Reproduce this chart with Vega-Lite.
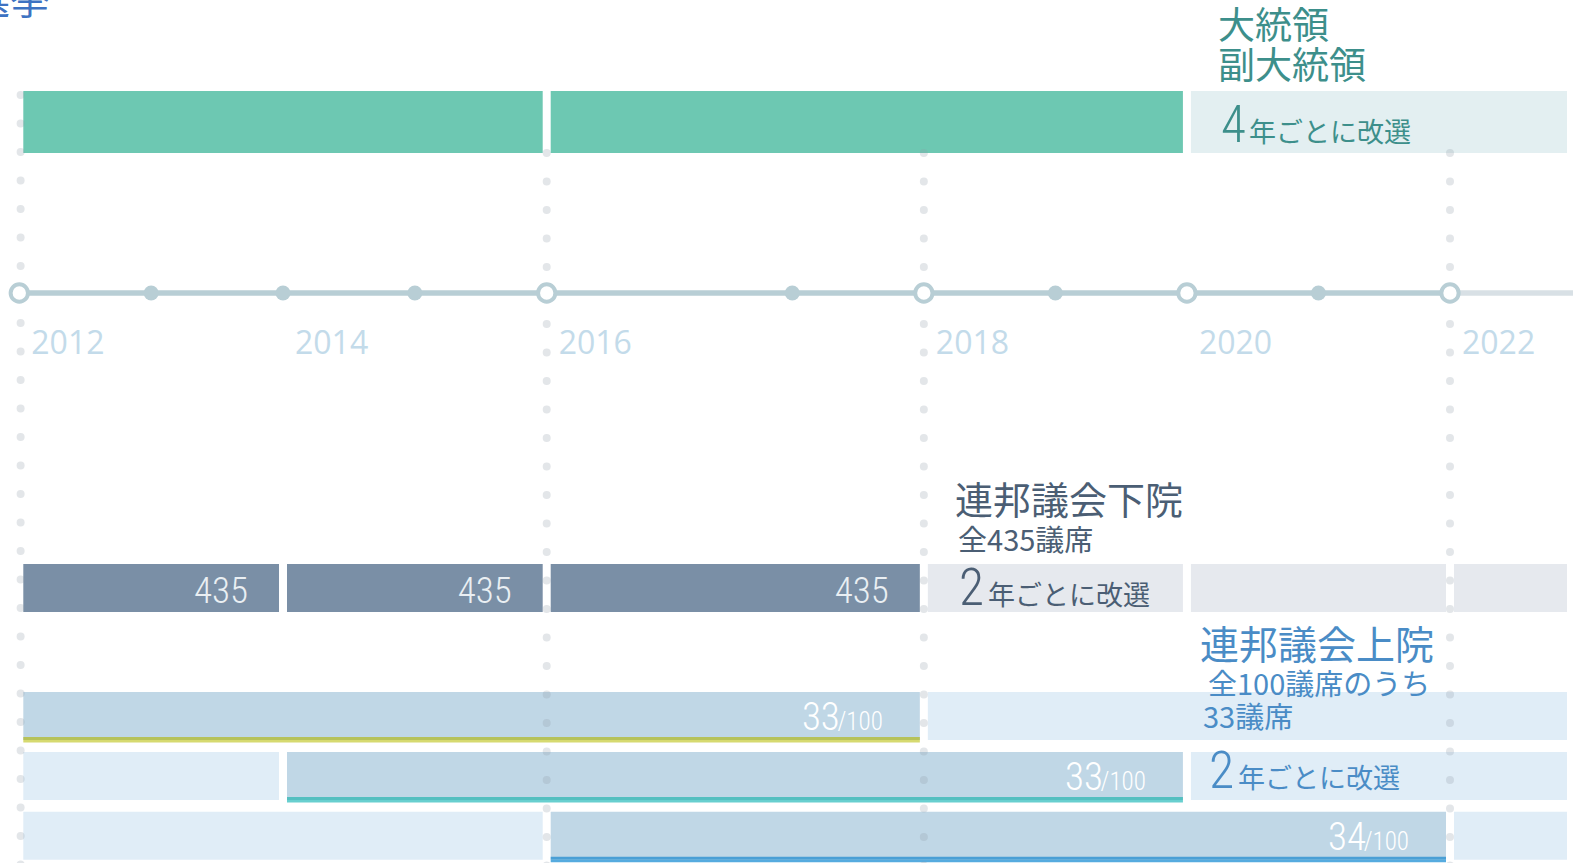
{
  "$schema": "https://vega.github.io/schema/vega-lite/v6.json",
  "width": 1573,
  "height": 863,
  "padding": 0,
  "autosize": "none",
  "background": "white",
  "config": {"view": {"stroke": null}},
  "resolve": {"scale": {"color": "independent", "size": "independent"}},
  "datasets": {
    "bars": [
      {"lane": 1, "year": 2012, "end": 2016, "kind": "pres"},
      {"lane": 1, "year": 2016, "end": 2020, "kind": "pres"},
      {"lane": 1, "year": 2020, "end": 2022.92, "kind": "pres-next"},
      {"lane": 3, "year": 2012, "end": 2014, "kind": "house", "seats": "435"},
      {"lane": 3, "year": 2014, "end": 2016, "kind": "house", "seats": "435"},
      {"lane": 3, "year": 2016, "end": 2018, "kind": "house", "seats": "435"},
      {"lane": 3, "year": 2018, "end": 2020, "kind": "house-next"},
      {"lane": 3, "year": 2020, "end": 2022, "kind": "house-next"},
      {"lane": 3, "year": 2022, "end": 2022.92, "kind": "house-next"},
      {"lane": 4, "year": 2012, "end": 2018, "kind": "senate", "seats": "33", "of": "/100", "line": "class1"},
      {"lane": 4, "year": 2018, "end": 2022.92, "kind": "senate-next"},
      {"lane": 5, "year": 2012, "end": 2014, "kind": "senate-next"},
      {"lane": 5, "year": 2014, "end": 2020, "kind": "senate", "seats": "33", "of": "/100", "line": "class2"},
      {"lane": 5, "year": 2020, "end": 2022.92, "kind": "senate-next"},
      {"lane": 6, "year": 2012, "end": 2016, "kind": "senate-next"},
      {"lane": 6, "year": 2016, "end": 2022, "kind": "senate", "seats": "34", "of": "/100", "line": "class3"},
      {"lane": 6, "year": 2022, "end": 2022.92, "kind": "senate-next"}
    ],
    "guides": [
      {"year": 2012.01, "lane": 0.7705, "lane2": 6.6},
      {"year": 2016, "lane": 1.181, "lane2": 6.6},
      {"year": 2018, "lane": 1.181, "lane2": 6.6},
      {"year": 2022, "lane": 1.181, "lane2": 6.6}
    ],
    "axisline": [
      {"year": 2012, "end": 2022, "lane": 2, "seg": "past"},
      {"year": 2022, "end": 2023.2, "lane": 2, "seg": "future"}
    ],
    "ticks": [
      {"year": 2012, "lane": 2, "type": "election"},
      {"year": 2013, "lane": 2, "type": "year"},
      {"year": 2014, "lane": 2, "type": "year"},
      {"year": 2015, "lane": 2, "type": "year"},
      {"year": 2016, "lane": 2, "type": "election"},
      {"year": 2017, "lane": 2, "type": "year"},
      {"year": 2018, "lane": 2, "type": "election"},
      {"year": 2019, "lane": 2, "type": "year"},
      {"year": 2020, "lane": 2, "type": "election"},
      {"year": 2021, "lane": 2, "type": "year"},
      {"year": 2022, "lane": 2, "type": "election"}
    ],
    "years": [
      {"year": 2012, "lane": 2, "label": "2012"},
      {"year": 2014, "lane": 2, "label": "2014"},
      {"year": 2016, "lane": 2, "label": "2016"},
      {"year": 2018, "lane": 2, "label": "2018"},
      {"year": 2020, "lane": 2, "label": "2020"},
      {"year": 2022, "lane": 2, "label": "2022"}
    ],
    "titles": [
      {"year": 2020.236, "lane": 0.297, "text": "大統領", "body": "pres"},
      {"year": 2020.236, "lane": 0.633, "text": "副大統領", "body": "pres"},
      {"year": 2018.237, "lane": 2.7505, "text": "連邦議会下院", "body": "house"},
      {"year": 2020.099, "lane": 3.558, "text": "連邦議会上院", "body": "senate"}
    ],
    "subs": [
      {"year": 2018.26, "lane": 2.8756, "text": "全435議席", "body": "house"},
      {"year": 2020.16, "lane": 3.838, "text": "全100議席のうち", "body": "senate"},
      {"year": 2020.122, "lane": 4.205, "text": "33議席", "body": "senate"}
    ],
    "cycles": [
      {"body": "pres", "lane": 1.118, "year": 2020.259, "textYear": 2020.472, "n": "4", "text": "年ごとに改選"},
      {"body": "house", "lane": 3.13, "year": 2018.267, "textYear": 2018.488, "n": "2", "text": "年ごとに改選"},
      {"body": "senate", "lane": 5.194, "year": 2020.168, "textYear": 2020.388, "n": "2", "text": "年ごとに改選"}
    ],
    "heading": [
      {"year": 2012.233, "lane": 0.082, "text": "選挙"}
    ]
  },
  "layer": [
    {
      "data": {"name": "bars"},
      "transform": [{"filter": "datum.lane == 1"}],
      "mark": {"type": "bar", "orient": "horizontal", "height": 62, "xOffset": 4, "x2Offset": -4},
      "encoding": {
        "x": {"field": "year", "type": "quantitative", "axis": null, "scale": {"domain": [2012, 2016, 2017, 2022], "range": [19.3, 546.7, 792.3, 1450], "nice": false, "zero": false}},
        "x2": {"field": "end"},
        "y": {"field": "lane", "type": "quantitative", "axis": null, "scale": {"domain": [0, 1, 2, 3, 4, 5, 6], "range": [0, 122, 293, 588, 716, 776, 838], "nice": false, "zero": false}},
        "color": {"field": "kind", "type": "nominal", "legend": null, "scale": {"domain": ["pres", "pres-next"], "range": ["#6dc8b2", "#e3eff1"]}}
      }
    },
    {
      "data": {"name": "bars"},
      "transform": [{"filter": "datum.lane != 1"}],
      "mark": {"type": "bar", "orient": "horizontal", "height": 48, "xOffset": 4, "x2Offset": -4},
      "encoding": {
        "x": {"field": "year", "type": "quantitative", "axis": null, "scale": {"domain": [2012, 2016, 2017, 2022], "range": [19.3, 546.7, 792.3, 1450], "nice": false, "zero": false}},
        "x2": {"field": "end"},
        "y": {"field": "lane", "type": "quantitative", "axis": null, "scale": {"domain": [0, 1, 2, 3, 4, 5, 6], "range": [0, 122, 293, 588, 716, 776, 838], "nice": false, "zero": false}},
        "color": {"field": "kind", "type": "nominal", "legend": null, "scale": {"domain": ["house", "house-next", "senate", "senate-next"], "range": ["#7a8fa6", "#e6e9ee", "#c0d7e6", "#e0edf7"]}}
      }
    },
    {
      "data": {"name": "bars"},
      "transform": [{"filter": "isValid(datum.line)"}],
      "mark": {"type": "rule", "strokeWidth": 3, "yOffset": 22.5, "xOffset": 4, "x2Offset": -4},
      "encoding": {
        "x": {"field": "year", "type": "quantitative", "axis": null, "scale": {"domain": [2012, 2016, 2017, 2022], "range": [19.3, 546.7, 792.3, 1450], "nice": false, "zero": false}},
        "x2": {"field": "end"},
        "y": {"field": "lane", "type": "quantitative", "axis": null, "scale": {"domain": [0, 1, 2, 3, 4, 5, 6], "range": [0, 122, 293, 588, 716, 776, 838], "nice": false, "zero": false}},
        "color": {"field": "line", "type": "nominal", "legend": null, "scale": {"domain": ["class1", "class2", "class3"], "range": ["#b6c25a", "#54bfc0", "#4a9fd5"]}}
      }
    },
    {
      "data": {"name": "bars"},
      "transform": [{"filter": "isValid(datum.line)"}],
      "mark": {"type": "rule", "strokeWidth": 2.5, "yOffset": 25.2, "xOffset": 4, "x2Offset": -4},
      "encoding": {
        "x": {"field": "year", "type": "quantitative", "axis": null, "scale": {"domain": [2012, 2016, 2017, 2022], "range": [19.3, 546.7, 792.3, 1450], "nice": false, "zero": false}},
        "x2": {"field": "end"},
        "y": {"field": "lane", "type": "quantitative", "axis": null, "scale": {"domain": [0, 1, 2, 3, 4, 5, 6], "range": [0, 122, 293, 588, 716, 776, 838], "nice": false, "zero": false}},
        "color": {"field": "line", "type": "nominal", "legend": null, "scale": {"domain": ["class1", "class2", "class3"], "range": ["#d6da70", "#68cfcf", "#56abdf"]}}
      }
    },
    {
      "data": {"name": "guides"},
      "mark": {"type": "rule", "strokeWidth": 8, "strokeCap": "round", "strokeDash": [0, 28.5], "color": "#8e9aa8", "opacity": 0.25},
      "encoding": {
        "x": {"field": "year", "type": "quantitative", "axis": null, "scale": {"domain": [2012, 2016, 2017, 2022], "range": [19.3, 546.7, 792.3, 1450], "nice": false, "zero": false}},
        "y": {"field": "lane", "type": "quantitative", "axis": null, "scale": {"domain": [0, 1, 2, 3, 4, 5, 6], "range": [0, 122, 293, 588, 716, 776, 838], "nice": false, "zero": false}},
        "y2": {"field": "lane2"}
      }
    },
    {
      "data": {"name": "axisline"},
      "mark": {"type": "rule", "strokeWidth": 5.5},
      "encoding": {
        "x": {"field": "year", "type": "quantitative", "axis": null, "scale": {"domain": [2012, 2016, 2017, 2022], "range": [19.3, 546.7, 792.3, 1450], "nice": false, "zero": false}},
        "x2": {"field": "end"},
        "y": {"field": "lane", "type": "quantitative", "axis": null, "scale": {"domain": [0, 1, 2, 3, 4, 5, 6], "range": [0, 122, 293, 588, 716, 776, 838], "nice": false, "zero": false}},
        "color": {"field": "seg", "type": "nominal", "legend": null, "scale": {"domain": ["past", "future"], "range": ["#b8ced5", "#d8e0e5"]}}
      }
    },
    {
      "data": {"name": "ticks"},
      "transform": [{"filter": "datum.type == 'year'"}],
      "mark": {"type": "point", "filled": true, "size": 225, "color": "#b8ced5", "opacity": 1},
      "encoding": {
        "x": {"field": "year", "type": "quantitative", "axis": null, "scale": {"domain": [2012, 2016, 2017, 2022], "range": [19.3, 546.7, 792.3, 1450], "nice": false, "zero": false}},
        "y": {"field": "lane", "type": "quantitative", "axis": null, "scale": {"domain": [0, 1, 2, 3, 4, 5, 6], "range": [0, 122, 293, 588, 716, 776, 838], "nice": false, "zero": false}}
      }
    },
    {
      "data": {"name": "ticks"},
      "transform": [{"filter": "datum.type == 'election'"}],
      "mark": {"type": "point", "filled": true, "size": 300, "fill": "#ffffff", "stroke": "#b8ced5", "strokeWidth": 4, "opacity": 1, "fillOpacity": 1},
      "encoding": {
        "x": {"field": "year", "type": "quantitative", "axis": null, "scale": {"domain": [2012, 2016, 2017, 2022], "range": [19.3, 546.7, 792.3, 1450], "nice": false, "zero": false}},
        "y": {"field": "lane", "type": "quantitative", "axis": null, "scale": {"domain": [0, 1, 2, 3, 4, 5, 6], "range": [0, 122, 293, 588, 716, 776, 838], "nice": false, "zero": false}}
      }
    },
    {
      "data": {"name": "years"},
      "mark": {"type": "text", "align": "left", "baseline": "alphabetic", "dx": 12, "dy": 61, "font": "Open Sans", "fontSize": 32, "color": "#c3dbea"},
      "encoding": {
        "x": {"field": "year", "type": "quantitative", "axis": null, "scale": {"domain": [2012, 2016, 2017, 2022], "range": [19.3, 546.7, 792.3, 1450], "nice": false, "zero": false}},
        "y": {"field": "lane", "type": "quantitative", "axis": null, "scale": {"domain": [0, 1, 2, 3, 4, 5, 6], "range": [0, 122, 293, 588, 716, 776, 838], "nice": false, "zero": false}},
        "text": {"field": "label"}
      }
    },
    {
      "data": {"name": "bars"},
      "transform": [{"filter": "datum.kind == 'house'"}],
      "mark": {"type": "text", "align": "right", "baseline": "alphabetic", "dx": -35, "dy": 15, "font": "Roboto Condensed, Noto Sans Condensed, Open Sans Condensed, DejaVu Sans Condensed, Liberation Sans Narrow, Roboto", "fontWeight": 300, "fontSize": 37, "color": "#eaeff3"},
      "encoding": {
        "x": {"field": "end", "type": "quantitative", "axis": null, "scale": {"domain": [2012, 2016, 2017, 2022], "range": [19.3, 546.7, 792.3, 1450], "nice": false, "zero": false}},
        "y": {"field": "lane", "type": "quantitative", "axis": null, "scale": {"domain": [0, 1, 2, 3, 4, 5, 6], "range": [0, 122, 293, 588, 716, 776, 838], "nice": false, "zero": false}},
        "text": {"field": "seats"}
      }
    },
    {
      "data": {"name": "bars"},
      "transform": [{"filter": "datum.kind == 'senate'"}],
      "mark": {"type": "text", "align": "right", "baseline": "alphabetic", "dx": -41, "dy": 14, "font": "Roboto Condensed, Noto Sans Condensed, Open Sans Condensed, DejaVu Sans Condensed, Liberation Sans Narrow, Roboto", "fontWeight": 300, "fontSize": 25, "color": "#ffffff"},
      "encoding": {
        "x": {"field": "end", "type": "quantitative", "axis": null, "scale": {"domain": [2012, 2016, 2017, 2022], "range": [19.3, 546.7, 792.3, 1450], "nice": false, "zero": false}},
        "y": {"field": "lane", "type": "quantitative", "axis": null, "scale": {"domain": [0, 1, 2, 3, 4, 5, 6], "range": [0, 122, 293, 588, 716, 776, 838], "nice": false, "zero": false}},
        "text": {"field": "of"}
      }
    },
    {
      "data": {"name": "bars"},
      "transform": [{"filter": "datum.kind == 'senate'"}],
      "mark": {"type": "text", "align": "right", "baseline": "alphabetic", "dx": -84, "dy": 14, "font": "Roboto Condensed, Noto Sans Condensed, Open Sans Condensed, DejaVu Sans Condensed, Liberation Sans Narrow, Roboto", "fontWeight": 300, "fontSize": 39, "color": "#ffffff"},
      "encoding": {
        "x": {"field": "end", "type": "quantitative", "axis": null, "scale": {"domain": [2012, 2016, 2017, 2022], "range": [19.3, 546.7, 792.3, 1450], "nice": false, "zero": false}},
        "y": {"field": "lane", "type": "quantitative", "axis": null, "scale": {"domain": [0, 1, 2, 3, 4, 5, 6], "range": [0, 122, 293, 588, 716, 776, 838], "nice": false, "zero": false}},
        "text": {"field": "seats"}
      }
    },
    {
      "data": {"name": "titles"},
      "mark": {"type": "text", "align": "left", "baseline": "alphabetic", "font": "Noto Sans CJK JP"},
      "encoding": {
        "x": {"field": "year", "type": "quantitative", "axis": null, "scale": {"domain": [2012, 2016, 2017, 2022], "range": [19.3, 546.7, 792.3, 1450], "nice": false, "zero": false}},
        "y": {"field": "lane", "type": "quantitative", "axis": null, "scale": {"domain": [0, 1, 2, 3, 4, 5, 6], "range": [0, 122, 293, 588, 716, 776, 838], "nice": false, "zero": false}},
        "text": {"field": "text"},
        "size": {"field": "body", "type": "nominal", "legend": null, "scale": {"domain": ["pres", "house", "senate"], "range": [37, 39, 39]}},
        "color": {"field": "body", "type": "nominal", "legend": null, "scale": {"domain": ["pres", "house", "senate"], "range": ["#3d8f8b", "#4b5e74", "#4a8cc6"]}}
      }
    },
    {
      "data": {"name": "subs"},
      "mark": {"type": "text", "align": "left", "baseline": "alphabetic", "font": "Noto Sans CJK JP", "fontSize": 29},
      "encoding": {
        "x": {"field": "year", "type": "quantitative", "axis": null, "scale": {"domain": [2012, 2016, 2017, 2022], "range": [19.3, 546.7, 792.3, 1450], "nice": false, "zero": false}},
        "y": {"field": "lane", "type": "quantitative", "axis": null, "scale": {"domain": [0, 1, 2, 3, 4, 5, 6], "range": [0, 122, 293, 588, 716, 776, 838], "nice": false, "zero": false}},
        "text": {"field": "text"},
        "color": {"field": "body", "type": "nominal", "legend": null, "scale": {"domain": ["pres", "house", "senate"], "range": ["#3d8f8b", "#4b5e74", "#4a8cc6"]}}
      }
    },
    {
      "data": {"name": "cycles"},
      "mark": {"type": "text", "align": "left", "baseline": "alphabetic", "font": "Roboto Condensed, Noto Sans Condensed, Open Sans Condensed, DejaVu Sans Condensed, Liberation Sans Narrow, Roboto", "fontWeight": 300},
      "encoding": {
        "x": {"field": "year", "type": "quantitative", "axis": null, "scale": {"domain": [2012, 2016, 2017, 2022], "range": [19.3, 546.7, 792.3, 1450], "nice": false, "zero": false}},
        "y": {"field": "lane", "type": "quantitative", "axis": null, "scale": {"domain": [0, 1, 2, 3, 4, 5, 6], "range": [0, 122, 293, 588, 716, 776, 838], "nice": false, "zero": false}},
        "text": {"field": "n"},
        "size": {"field": "body", "type": "nominal", "legend": null, "scale": {"domain": ["pres", "house", "senate"], "range": [51, 52, 45]}},
        "color": {"field": "body", "type": "nominal", "legend": null, "scale": {"domain": ["pres", "house", "senate"], "range": ["#3d8f8b", "#4b5e74", "#4a8cc6"]}}
      }
    },
    {
      "data": {"name": "cycles"},
      "mark": {"type": "text", "align": "left", "baseline": "alphabetic", "font": "Noto Sans CJK JP", "fontSize": 27},
      "encoding": {
        "x": {"field": "textYear", "type": "quantitative", "axis": null, "scale": {"domain": [2012, 2016, 2017, 2022], "range": [19.3, 546.7, 792.3, 1450], "nice": false, "zero": false}},
        "y": {"field": "lane", "type": "quantitative", "axis": null, "scale": {"domain": [0, 1, 2, 3, 4, 5, 6], "range": [0, 122, 293, 588, 716, 776, 838], "nice": false, "zero": false}},
        "text": {"field": "text"},
        "color": {"field": "body", "type": "nominal", "legend": null, "scale": {"domain": ["pres", "house", "senate"], "range": ["#3d8f8b", "#4b5e74", "#4a8cc6"]}}
      }
    },
    {
      "data": {"name": "heading"},
      "mark": {"type": "text", "align": "right", "baseline": "alphabetic", "font": "Noto Sans CJK JP", "fontSize": 40, "color": "#3d72c2"},
      "encoding": {
        "x": {"field": "year", "type": "quantitative", "axis": null, "scale": {"domain": [2012, 2016, 2017, 2022], "range": [19.3, 546.7, 792.3, 1450], "nice": false, "zero": false}},
        "y": {"field": "lane", "type": "quantitative", "axis": null, "scale": {"domain": [0, 1, 2, 3, 4, 5, 6], "range": [0, 122, 293, 588, 716, 776, 838], "nice": false, "zero": false}},
        "text": {"field": "text"}
      }
    }
  ]
}
